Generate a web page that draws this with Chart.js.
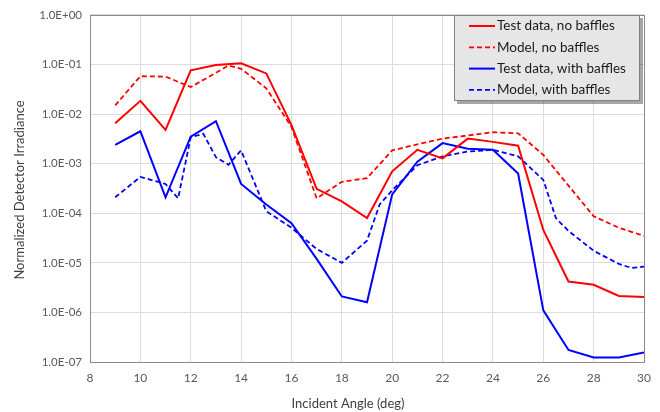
<!DOCTYPE html>
<html><head><meta charset="utf-8">
<script src="https://cdn.jsdelivr.net/npm/chart.js@4.4.1/dist/chart.umd.min.js"></script>
<style>html,body{margin:0;padding:0;background:#fff}#wrap{width:660px;height:412px;position:relative}</style>
</head><body><div id="wrap"><canvas id="c" width="660" height="412"></canvas></div>
<script>
// ---- data ----
const testAngles = [9,10,11,12,13,14,15,16,17,18,19,20,21,22,23,24,25,26,27,28,29,30];
const testNoBaffles = [6.5e-3,1.85e-2,4.8e-3,7.6e-2,9.8e-2,1.06e-1,6.6e-2,6.0e-3,3.1e-4,1.74e-4,8.0e-5,7.0e-4,1.9e-3,1.28e-3,3.2e-3,2.75e-3,2.3e-3,4.6e-5,4.2e-6,3.6e-6,2.15e-6,2.05e-6];
const testWithBaffles = [2.4e-3,4.5e-3,2.1e-4,3.5e-3,7.2e-3,3.9e-4,1.5e-4,6.3e-5,1.2e-5,2.1e-6,1.6e-6,2.4e-4,1.1e-3,2.6e-3,2.0e-3,1.9e-3,6.3e-4,1.1e-6,1.75e-7,1.23e-7,1.23e-7,1.55e-7];
const modelNoAngles = [9,10,11,12,13.5,14,15,16,17,18,19,20,21,22,23,24,25,26,27,28,29,30];
const modelNoBaffles = [1.5e-2,5.8e-2,5.7e-2,3.5e-2,9.5e-2,8.2e-2,3.3e-2,5.5e-3,2.0e-4,4.3e-4,5.1e-4,1.85e-3,2.45e-3,3.2e-3,3.7e-3,4.3e-3,4.1e-3,1.5e-3,3.6e-4,8.7e-5,5.1e-5,3.5e-5];
const modelWithAngles = [9,10,11,11.5,12,12.5,13,13.5,14,15,16,17,18,19,19.5,20,21,22,23,24,25,26,26.5,27,28,29,29.5,30];
const modelWithBaffles = [2.1e-4,5.4e-4,3.9e-4,2.0e-4,3.4e-3,4.0e-3,1.35e-3,9.5e-4,1.85e-3,1.1e-4,5.1e-5,1.9e-5,1.0e-5,2.8e-5,1.5e-4,2.9e-4,9.3e-4,1.4e-3,1.75e-3,1.9e-3,1.4e-3,4.7e-4,8.0e-5,4.4e-5,1.75e-5,9.5e-6,7.9e-6,8.4e-6];
const seriesLabels = ["Test data, no baffles","Model, no baffles","Test data, with baffles","Model, with baffles"];
const yTickValues = [1e0,1e-1,1e-2,1e-3,1e-4,1e-5,1e-6,1e-7];
const xTitle = "Incident Angle (deg)";
const yTitle = "Normalized Detector Irradiance";

const pts = (xs, ys) => xs.map((x, i) => ({x, y: ys[i]}));
const FONT = "Lato, 'Open Sans', sans-serif";

const frameAndLegend = {
  id: 'frameAndLegend',
  beforeDatasetsDraw(chart) {
    const {ctx, chartArea: a} = chart;
    ctx.save();
    ctx.strokeStyle = '#8a8a8a'; ctx.lineWidth = 1;
    ctx.strokeRect(Math.round(a.left) + 0.5, Math.round(a.top) + 0.5, Math.round(a.right - a.left), Math.round(a.bottom - a.top));
    ctx.restore();
  },
  afterDraw(chart) {
    const ctx = chart.ctx;
    ctx.save();
    // axis titles
    ctx.fillStyle = '#404040';
    ctx.font = "13px " + FONT;
    ctx.textAlign = 'center'; ctx.textBaseline = 'middle';
    ctx.fillText(xTitle, 348, 404);
    ctx.translate(20, 190); ctx.rotate(-Math.PI / 2);
    ctx.fillText(yTitle, 0, 0);
    ctx.restore();
    // legend
    ctx.save();
    const bx = 454, by = 15, bw = 186, bh = 86;
    ctx.fillStyle = 'rgba(0,0,0,0.35)';
    ctx.fillRect(bx + 3, by + 3, bw, bh);
    ctx.fillStyle = '#e6e6e6';
    ctx.fillRect(bx, by, bw, bh);
    ctx.strokeStyle = '#808080'; ctx.lineWidth = 1;
    ctx.strokeRect(bx + 0.5, by + 0.5, bw - 1, bh - 1);
    ctx.font = "13.5px " + FONT;
    ctx.textBaseline = 'middle'; ctx.textAlign = 'left';
    chart.data.datasets.forEach((ds, i) => {
      const y = 26 + i * 21.3;
      ctx.strokeStyle = ds.borderColor;
      ctx.lineWidth = ds.borderWidth;
      ctx.setLineDash(ds.borderDash || []);
      ctx.beginPath(); ctx.moveTo(469, y); ctx.lineTo(495, y); ctx.stroke();
      ctx.setLineDash([]);
      ctx.fillStyle = '#1a1a1a';
      ctx.fillText(ds.label, 497, y);
    });
    ctx.restore();
  }
};

new Chart(document.getElementById('c'), {
  type: 'line',
  data: {
    datasets: [
      {label: seriesLabels[0], data: pts(testAngles, testNoBaffles), borderColor: '#ff0000', borderWidth: 2},
      {label: seriesLabels[1], data: pts(modelNoAngles, modelNoBaffles), borderColor: '#ff0000', borderWidth: 1.8, borderDash: [5, 3]},
      {label: seriesLabels[2], data: pts(testAngles, testWithBaffles), borderColor: '#0000ff', borderWidth: 2},
      {label: seriesLabels[3], data: pts(modelWithAngles, modelWithBaffles), borderColor: '#0000ff', borderWidth: 1.8, borderDash: [5, 3]}
    ]
  },
  options: {
    responsive: false, animation: false,
    layout: {padding: {top: 11, right: 14, left: 0, bottom: 0}},
    elements: {point: {radius: 0}, line: {tension: 0, fill: false}},
    plugins: {legend: {display: false}, tooltip: {enabled: false}},
    scales: {
      x: {
        type: 'linear', min: 8, max: 30,
        afterFit: s => { s.height = 50; },
        ticks: {stepSize: 2, padding: 9, color: '#595959', font: {family: FONT, size: 12}},
        grid: {color: '#dcdcdc', drawTicks: false},
        border: {display: false},
        title: {display: false}
      },
      y: {
        type: 'logarithmic', min: 1e-7, max: 1,
        afterFit: s => { s.width = 90; },
        afterBuildTicks: s => { s.ticks = yTickValues.map(v => ({value: v})); },
        ticks: {padding: 8, color: '#595959', font: {family: FONT, size: 11.5},
          callback: v => { const e = Math.round(Math.log10(v)); return '1.0E' + (e < 0 ? '-' : '+') + String(Math.abs(e)).padStart(2, '0'); }},
        grid: {color: '#dcdcdc', drawTicks: false},
        border: {display: false},
        title: {display: false}
      }
    }
  },
  plugins: [frameAndLegend]
});
</script></body></html>
